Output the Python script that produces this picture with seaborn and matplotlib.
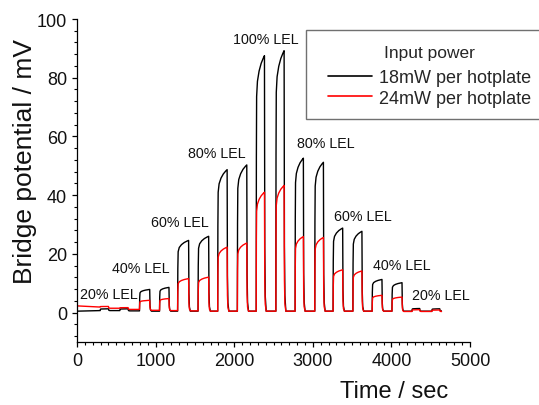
import matplotlib
matplotlib.use("Agg")
import numpy as np
import pandas as pd
import matplotlib.pyplot as plt
import matplotlib.patches as mpatches
import seaborn as sns
from matplotlib.ticker import MultipleLocator

# ---------------- data ----------------
pulse_start = [295, 545, 795, 1050, 1280, 1540, 1790, 2040, 2280, 2530,
               2775, 3025, 3258, 3510, 3755, 4007, 4262, 4515]
pulse_end = [400, 650, 925, 1170, 1420, 1675, 1910, 2160, 2385, 2635,
             2880, 3135, 3380, 3625, 3880, 4135, 4360, 4615]
peak_18 = [1.3, 1.3, 7.9, 8.6, 24.6, 26.0, 48.7, 50.3, 87.5, 89.2,
           52.6, 51.2, 28.8, 27.7, 11.3, 10.2, 1.4, 1.3]
peak_24 = [2.1, 1.7, 4.2, 4.8, 11.6, 12.1, 22.3, 23.7, 41.0, 43.3,
           25.9, 25.6, 14.6, 14.2, 5.9, 5.3, 1.0, 0.9]
start_18 = 0.5
start_24 = 2.3
base_18 = [0.7, 0.7, 0.6, 0.5, 0.5, 0.5, 0.5, 0.5, 0.5, 0.5,
           0.5, 0.5, 0.5, 0.5, 0.5, 0.5, 0.5, 0.5, 0.5]
base_24 = [1.9, 1.5, 1.1, 0.8, 0.7, 0.6, 0.5, 0.5, 0.5, 0.5,
           0.5, 0.5, 0.5, 0.5, 0.5, 0.5, 0.4, 0.4, 0.4]
# pulse profile (fraction of on-time, fraction of rise)
rise_frac_t = [0.0, 0.02, 0.05, 0.15, 0.35, 0.6, 0.85, 1.0]
rise_frac_v = [0.0, 0.60, 0.84, 0.90, 0.94, 0.97, 0.99, 1.0]
fall_dt = [4, 10, 22]
fall_frac = [0.25, 0.06, 0.0]
t_last = 4630

series_names = ["18mW per hotplate", "24mW per hotplate"]
series_colors = ["black", "red"]

lel_labels = ["20% LEL", "40% LEL", "60% LEL", "80% LEL", "100% LEL",
              "80% LEL", "60% LEL", "40% LEL", "20% LEL"]
lel_x = [38, 445, 941, 1412, 1984, 2798, 3269, 3765, 4261]
lel_y = [6.5, 15.3, 31.0, 54.4, 93.2, 57.8, 33.0, 16.3, 6.1]

x_ticks = [0, 1000, 2000, 3000, 4000, 5000]
y_ticks = [0, 20, 40, 60, 80, 100]


def build(start_val, peaks, bases):
    t = [0.0]
    v = [start_val]
    for i, (s, e, p) in enumerate(zip(pulse_start, pulse_end, peaks)):
        b = bases[i]
        nb = bases[i + 1]
        for ft, fv in zip(rise_frac_t, rise_frac_v):
            t.append(s + ft * (e - s))
            v.append(b + fv * (p - b))
        for dt, ff in zip(fall_dt, fall_frac):
            t.append(e + dt)
            v.append(nb + ff * (p - nb))
    t.append(t_last)
    v.append(bases[-1])
    return t, v


t18, v18 = build(start_18, peak_18, base_18)
t24, v24 = build(start_24, peak_24, base_24)
df = pd.DataFrame({
    "time": t18 + t24,
    "potential": v18 + v24,
    "power": [series_names[0]] * len(t18) + [series_names[1]] * len(t24),
})

# ---------------- figure ----------------
sns.set_theme(style="ticks")
plt.rcParams["font.family"] = ["Liberation Sans", "DejaVu Sans"]

W, H = 539, 406
fig = plt.figure(figsize=(W / 100, H / 100), dpi=100)
ax = fig.add_axes([77 / W, 1 - 343 / H, 393 / W, 323 / H])

sns.lineplot(data=df, x="time", y="potential", hue="power",
             palette=dict(zip(series_names, series_colors)),
             estimator=None, sort=False, linewidth=1.0, ax=ax)

ax.set_xlim(0, 5000)
ax.set_ylim(-10, 100)
ax.set_xticks(x_ticks)
ax.set_yticks(y_ticks)
ax.xaxis.set_minor_locator(MultipleLocator(100))
ax.yaxis.set_minor_locator(MultipleLocator(4))
ax.tick_params(axis="both", which="major", direction="out", length=3.6,
               width=0.9, labelsize=13, pad=3.5, color="black",
               labelcolor="#111111")
ax.tick_params(axis="both", which="minor", direction="out", length=2.2,
               width=0.8, color="black")
for side in ["top", "right"]:
    ax.spines[side].set_visible(False)
for side in ["left", "bottom"]:
    ax.spines[side].set_linewidth(0.9)
    ax.spines[side].set_color("black")

ax.set_xlabel("Time / sec", fontsize=17, color="#111111")
ax.set_ylabel("Bridge potential / mV", fontsize=19, color="#111111")
ax.xaxis.set_label_coords((394 - 77) / 393, (343 - 381) / 323)
ax.xaxis.label.set_va("top")
ax.yaxis.set_label_coords((25 - 77) / 393, (343 - 161) / 323)
ax.yaxis.label.set_va("center")

for lab, x, y in zip(lel_labels, lel_x, lel_y):
    ax.text(x, y, lab, fontsize=10.3, ha="left", va="center", color="#111111")

# legend frame (drawn below the legend entries)
frame = mpatches.Rectangle((306 / W, 1 - 120 / H), (W - 306 + 5) / W, 89 / H,
                           transform=fig.transFigure, facecolor="white",
                           edgecolor="#707070", linewidth=1.0, zorder=4,
                           clip_on=False)
ax.add_patch(frame)

handles, labels = ax.get_legend_handles_labels()
leg = ax.legend(handles, labels, title="Input power", frameon=False,
                loc="upper left", bbox_to_anchor=(328 / W, 1 - 46 / H),
                bbox_transform=fig.transFigure, borderpad=0, borderaxespad=0,
                fontsize=13, title_fontsize=12.5, handlelength=2.45,
                handletextpad=0.35, labelspacing=0.19)
try:
    leg._legend_box.sep = 6.7
except Exception:
    pass
for line in leg.get_lines():
    line.set_linewidth(1.2)
leg.set_zorder(6)

fig.savefig("out.png", dpi=100)
